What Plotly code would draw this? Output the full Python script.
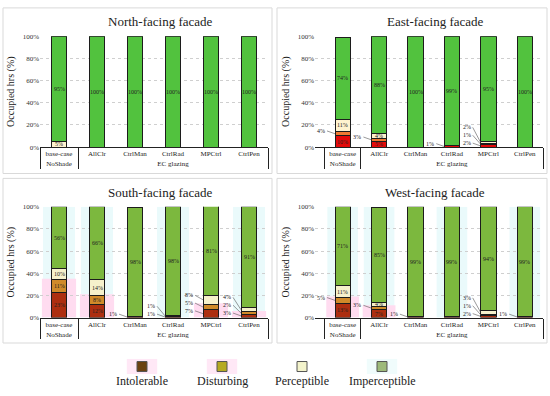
import plotly.graph_objects as go

# ---------------- data ----------------
CATEGORIES = ["base-case", "AllClr", "CtrlMan", "CtrlRad", "MPCtrl", "CtrlPen"]
GROUPS = ["NoShade", "EC glazing", "EC glazing", "EC glazing", "EC glazing", "EC glazing"]
LEVELS = ["Intolerable", "Disturbing", "Perceptible", "Imperceptible"]
YTICKS = [0, 20, 40, 60, 80, 100]
YTICK_LABELS = ["0%", "20%", "40%", "60%", "80%", "100%"]

north_intolerable = [0, 0, 0, 0, 0, 0]
north_disturbing = [0, 0, 0, 0, 0, 0]
north_perceptible = [5, 0, 0, 0, 0, 0]
north_imperceptible = [95, 100, 100, 100, 100, 100]

east_intolerable = [10, 5, 0, 1, 2, 0]
east_disturbing = [4, 3, 0, 0, 1, 0]
east_perceptible = [11, 4, 0, 0, 2, 0]
east_imperceptible = [74, 88, 100, 99, 95, 100]

south_intolerable = [23, 12, 1, 1, 7, 3]
south_disturbing = [11, 8, 0, 1, 5, 2]
south_perceptible = [10, 14, 0, 0, 8, 4]
south_imperceptible = [56, 66, 98, 98, 81, 91]

west_intolerable = [13, 7, 1, 1, 2, 1]
west_disturbing = [5, 3, 0, 0, 1, 0]
west_perceptible = [11, 4, 0, 0, 3, 0]
west_imperceptible = [71, 85, 99, 99, 94, 99]

# ---------------- styling ----------------
SERIF = "Liberation Serif, Times New Roman, serif"
COLORS_BRIGHT = ["#e40a0a", "#f07a32", "#fff3cf", "#52c23e"]
COLORS_DARK = ["#ad2e10", "#d08a2a", "#f6f1cc", "#7cb83e"]
LEGEND_COLORS = ["#6b4210", "#b5aa22", "#f3f3cb", "#9dba7a"]

panels = [
    dict(title="North-facing facade", data=[north_intolerable, north_disturbing, north_perceptible, north_imperceptible],
         colors=COLORS_BRIGHT, leader=[], hide=[], cyan=[], pink=[],
         xdom=(40 / 550, 268 / 550), ydom=(1 - 146 / 396, 1 - 33 / 396), tx=160, ty=18),
    dict(title="East-facing facade", data=[east_intolerable, east_disturbing, east_perceptible, east_imperceptible],
         colors=COLORS_BRIGHT, leader=[(0, 1), (1, 1), (3, 0), (4, 0), (4, 1), (4, 2)], hide=[], cyan=[], pink=[],
         xdom=(315 / 550, 543 / 550), ydom=(1 - 146 / 396, 1 - 33 / 396), tx=435, ty=18),
    dict(title="South-facing facade", data=[south_intolerable, south_disturbing, south_perceptible, south_imperceptible],
         colors=COLORS_DARK,
         leader=[(2, 0), (3, 0), (3, 1), (4, 0), (4, 1), (4, 2), (5, 0), (5, 1), (5, 2)], hide=[],
         cyan=[0, 1, 3, 5], pink=[0, 1, 4, 5],
         xdom=(40 / 550, 268 / 550), ydom=(1 - 320 / 396, 1 - 207 / 396), tx=160, ty=192),
    dict(title="West-facing facade", data=[west_intolerable, west_disturbing, west_perceptible, west_imperceptible],
         colors=COLORS_DARK,
         leader=[(0, 1), (1, 1), (2, 0), (4, 0), (4, 1), (4, 2), (5, 0)], hide=[(3, 0)],
         cyan=[0, 1, 3, 5], pink=[0, 1],
         xdom=(315 / 550, 543 / 550), ydom=(1 - 320 / 396, 1 - 207 / 396), tx=435, ty=192),
]

BAR_W = 0.42
fig = go.Figure()
annotations = []
shapes = []

for p_i, p in enumerate(panels):
    n = p_i + 1
    xa = "x" if n == 1 else f"x{n}"
    ya = "y" if n == 1 else f"y{n}"
    px_per_unit = (p["ydom"][1] - p["ydom"][0]) * 396 / 100
    for lvl, (vals, col) in enumerate(zip(p["data"], p["colors"])):
        fig.add_trace(go.Bar(
            x=[GROUPS, CATEGORIES], y=vals, name=LEVELS[lvl], width=BAR_W,
            marker=dict(color=col, line=dict(color="#1c1c1c", width=1)),
            showlegend=False, xaxis=xa, yaxis=ya, hoverinfo="skip"))
    # segment labels
    for c in range(len(CATEGORIES)):
        base = 0
        prev_label = -100
        for lvl in range(4):
            v = p["data"][lvl][c]
            mid = base + v / 2
            base += v
            if v <= 0 or (c, lvl) in p["hide"]:
                continue
            if (c, lvl) in p["leader"]:
                ly = max(mid + 2.5, prev_label + 7)
                prev_label = ly
                annotations.append(dict(
                    x=c - BAR_W / 2, y=mid, xref=xa, yref=ya, text=f"{v}%",
                    showarrow=True, arrowhead=0, arrowwidth=0.6, arrowcolor="#555",
                    ax=-8, ay=-(ly - mid) * px_per_unit, xanchor="right", yanchor="middle",
                    font=dict(family=SERIF, size=6, color="#222")))
            else:
                annotations.append(dict(
                    x=c, y=mid, xref=xa, yref=ya, text=f"{v}%", showarrow=False,
                    font=dict(family=SERIF, size=6, color="#222")))
    # decorative background tints
    for c in p["cyan"]:
        shapes.append(dict(type="rect", xref=xa, yref=ya, x0=c - 0.42, x1=c + 0.42, y0=0, y1=100,
                           fillcolor="#eafafb", line=dict(width=0), layer="below"))
    for c in p["pink"]:
        h = p["data"][0][c] + p["data"][1][c]
        shapes.append(dict(type="rect", xref=xa, yref=ya, x0=c - 0.45, x1=c + 0.45, y0=0, y1=h + 1,
                           fillcolor="#ffdcf0", line=dict(width=0), layer="below"))
    # title
    annotations.append(dict(text=p["title"], x=p["tx"] / 550, y=1 - p["ty"] / 396,
                            xref="paper", yref="paper", showarrow=False, xanchor="center", yanchor="middle",
                            font=dict(family=SERIF, size=13, color="#222")))
    axis_x = dict(domain=list(p["xdom"]), type="multicategory", anchor=ya,
                  showdividers=True, dividercolor="#222", dividerwidth=1,
                  showline=True, linecolor="#222", linewidth=1, ticks="",
                  tickfont=dict(family=SERIF, size=7, color="#222"), showgrid=False)
    axis_y = dict(domain=list(p["ydom"]), anchor=xa, range=[0, 100],
                  tickmode="array", tickvals=YTICKS, ticktext=YTICK_LABELS,
                  showgrid=True, gridcolor="#cfcfcf", griddash="dot", gridwidth=1,
                  zeroline=False, showline=False,
                  tickfont=dict(family=SERIF, size=7, color="#333"),
                  title=dict(text="Occupied hrs (%)", standoff=6, font=dict(family=SERIF, size=10, color="#222")))
    fig.layout["xaxis" if n == 1 else f"xaxis{n}"] = axis_x
    fig.layout["yaxis" if n == 1 else f"yaxis{n}"] = axis_y

# panel frames
for (x0, y0, x1, y1) in [(3, 4, 272, 173), (277, 4, 547, 173), (3, 178, 272, 346), (277, 178, 547, 346)]:
    shapes.append(dict(type="rect", xref="paper", yref="paper", x0=x0 / 550, x1=x1 / 550,
                       y0=1 - y1 / 396, y1=1 - y0 / 396, line=dict(color="#d9d9d9", width=1), layer="below"))

# legend as its own small axis: squares from a marker trace, names as annotations below
fig.add_trace(go.Scatter(
    x=list(range(len(LEVELS))), y=[0] * len(LEVELS), mode="markers",
    marker=dict(symbol="square", size=10, color=LEGEND_COLORS, line=dict(color="#555", width=1)),
    showlegend=False, xaxis="x5", yaxis="y5", hoverinfo="skip", cliponaxis=False))
for c, name in enumerate(LEVELS):
    annotations.append(dict(text=name, x=c, xref="x5", y=1 - 385 / 396, yref="paper",
                            showarrow=False, xanchor="center", yanchor="middle",
                            font=dict(family=SERIF, size=12, color="#222")))
for c, col in [(0, "#ffe8f6"), (1, "#ffe8f6"), (3, "#f0fcfc")]:
    shapes.append(dict(type="rect", xref="x5", yref="y5", x0=c - 0.19, x1=c + 0.19, y0=-1, y1=1,
                       fillcolor=col, line=dict(width=0), layer="below"))
fig.layout["xaxis5"] = dict(domain=[102 / 550, 422 / 550], anchor="y5", visible=False, range=[-0.5, 3.5])
fig.layout["yaxis5"] = dict(domain=[1 - 378 / 396, 1 - 362 / 396], anchor="x5", visible=False, range=[-1, 1])

fig.update_layout(
    width=550, height=396, margin=dict(l=0, r=0, t=0, b=0),
    paper_bgcolor="white", plot_bgcolor="rgba(0,0,0,0)",
    barmode="stack", annotations=annotations, shapes=shapes,
    font=dict(family=SERIF), showlegend=False,
)

fig.write_html("out.html", config={"displayModeBar": False},
               post_script="document.body.style.margin='0';document.body.style.overflow='hidden';")
